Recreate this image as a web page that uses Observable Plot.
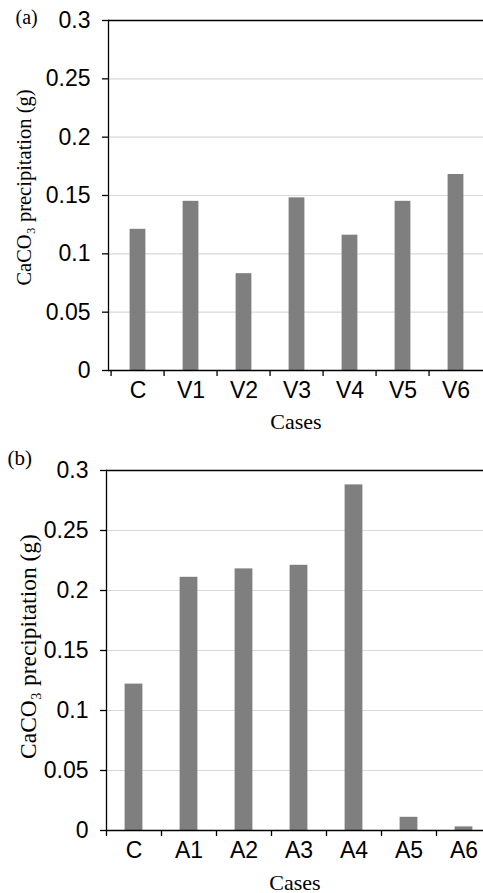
<!DOCTYPE html>
<html><head><meta charset="utf-8">
<script src="https://cdn.jsdelivr.net/npm/d3@7"></script>
<script src="https://cdn.jsdelivr.net/npm/@observablehq/plot@0.6"></script>
<style>
html,body{margin:0;padding:0;background:#fff;overflow:hidden;}
#chart{width:483px;}
#chart svg{display:block;}
</style></head><body>
<div id="chart"></div>
<script>
const casesA = ["C", "V1", "V2", "V3", "V4", "V5", "V6"];
const valuesA = [0.121, 0.145, 0.083, 0.148, 0.116, 0.145, 0.168];
const casesB = ["C", "A1", "A2", "A3", "A4", "A5", "A6"];
const valuesB = [0.122, 0.211, 0.218, 0.221, 0.288, 0.011, 0.003];
const yTicks = [0, 0.05, 0.1, 0.15, 0.2, 0.25, 0.3];
const gridTicks = [0.05, 0.1, 0.15, 0.2, 0.25];
const yDomain = [0, 0.3];
const yLabel = "CaCO₃ precipitation (g)";
const xLabel = "Cases";
const panelTags = ["(a)", "(b)"];

const SANS = "'Liberation Sans', Arial, sans-serif";
const SERIF = "'Liberation Serif', 'Times New Roman', serif";
const TICK_FONT = 23;

function panel(cats, vals, tag, cfg) {
  const data = cats.map((c, i) => ({c, v: vals[i]}));
  const step = (cfg.x1 - cfg.x0) / cats.length;
  return Plot.plot({
    width: 483,
    height: cfg.height,
    marginTop: cfg.mt,
    marginBottom: cfg.mb,
    marginLeft: cfg.x0,
    marginRight: 0,
    x: {domain: cats, range: [cfg.x0, cfg.x1], padding: 0},
    y: {domain: yDomain},
    style: {fontFamily: SANS, fontSize: TICK_FONT + "px", color: "#000", background: "#fff"},
    marks: [
      Plot.gridY(gridTicks, {stroke: "#d9d9d9", strokeOpacity: 1, strokeWidth: 1.2}),
      Plot.barY(data, {x: "c", y: "v", fill: "#7f7f7f", insetLeft: 18.6, insetRight: 18.6}),
      Plot.ruleY([yDomain[1]], {stroke: "#000", strokeWidth: 1.3}),
      Plot.ruleY([0], {stroke: "#000", strokeWidth: 1.3}),
      Plot.frame({anchor: "left", stroke: "#000", strokeWidth: 1.3}),
      Plot.axisY({ticks: yTicks, tickFormat: d => String(d), tickSize: 6, tickPadding: 12, label: null, strokeWidth: 1.3, fontSize: TICK_FONT, fontFamily: SANS}),
      Plot.axisX({tickSize: 6, tickFormat: () => "", label: null, dx: -step / 2, strokeWidth: 1.3}),
      Plot.axisX({tickSize: 0, tickPadding: 11, label: null, fontSize: TICK_FONT, fontFamily: SANS}),
      Plot.text([xLabel], {frameAnchor: "bottom", textAnchor: "middle", lineAnchor: "middle", dy: cfg.xlDy, fontFamily: SERIF, fontSize: 22}),
      Plot.text([yLabel], {frameAnchor: "left", rotate: -90, textAnchor: "middle", lineAnchor: "middle", dx: cfg.ylDx, dy: cfg.ylDy, fontFamily: SERIF, fontSize: cfg.ylSize}),
      Plot.text([tag], {frameAnchor: "top-left", textAnchor: "start", lineAnchor: "middle", dx: cfg.tagDx, dy: cfg.tagDy, fontFamily: SERIF, fontSize: cfg.tagSize})
    ]
  });
}

const root = document.getElementById("chart");
root.append(panel(casesA, valuesA, panelTags[0], {
  height: 440, mt: 20, mb: 70, x0: 108, x1: 485,
  xlDy: 51, ylDx: -84, ylDy: -8, ylSize: 20.5, tagDx: -93, tagDy: -3, tagSize: 20
}));
root.append(panel(casesB, valuesB, panelTags[1], {
  height: 453, mt: 30, mb: 63, x0: 106, x1: 491,
  xlDy: 52, ylDx: -78.5, ylDy: -4, ylSize: 23.5, tagDx: -99, tagDy: -12.5, tagSize: 21
}));
</script>
</body></html>
